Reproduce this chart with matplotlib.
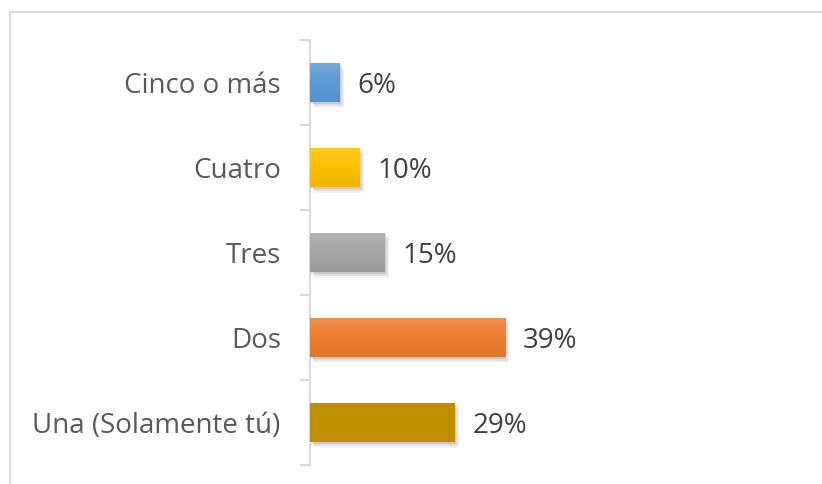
import matplotlib
matplotlib.use("Agg")
import matplotlib.pyplot as plt
import numpy as np
from matplotlib.patches import Rectangle
from matplotlib.colors import LinearSegmentedColormap, to_rgb

categories = ["Una (Solamente tú)", "Dos", "Tres", "Cuatro", "Cinco o más"]
values = [29, 39, 15, 10, 6]
colors = ["#BF8F00", "#ED7D31", "#A5A5A5", "#FFC000", "#5B9BD5"]

W, H = 822, 484
fig = plt.figure(figsize=(W / 100, H / 100), dpi=100)
plt.rcParams['font.family'] = ['Open Sans', 'DejaVu Sans']

# chart border (only top and left visible inside the picture)
fig.patches.append(Rectangle((10 / W, -0.2), 1.2, 1.2 - 12 / H, transform=fig.transFigure,
                             fill=False, edgecolor="#D9D9D9", linewidth=1.5))

ax = fig.add_axes([310 / W, 1 - 465 / H, 500 / W, 425 / H])
ax.set_xlim(0, 100)
ax.set_ylim(-0.5, 4.5)
y = np.arange(len(categories))

def lighten(c, f):
    r, g, b = to_rgb(c)
    return (r + (1 - r) * f, g + (1 - g) * f, b + (1 - b) * f)

def darken(c, f):
    r, g, b = to_rgb(c)
    return (r * (1 - f), g * (1 - f), b * (1 - f))

bh = 0.47
bars = ax.barh(y, values, height=bh, color=colors, zorder=3)
for i, (b, c) in enumerate(zip(bars, colors)):
    x0, y0 = b.get_x(), b.get_y()
    w, h = b.get_width(), b.get_height()
    # soft shadow
    for k, a in [(1, 0.10), (2, 0.07), (3, 0.05)]:
        ax.add_patch(Rectangle((x0 + 0.25 * k, y0 - 0.022 * k), w, h, color="#000000",
                               alpha=a, zorder=2, lw=0))
    if i == 0:
        continue
    cmap = LinearSegmentedColormap.from_list("g", [darken(c, 0.06), c, lighten(c, 0.15)])
    grad = np.linspace(0, 1, 64).reshape(-1, 1)
    im = ax.imshow(grad, extent=(x0, x0 + w, y0, y0 + h), origin="lower", cmap=cmap,
                   aspect="auto", zorder=3.5, interpolation="bilinear")
    im.set_clip_path(b)

for b, v in zip(bars, values):
    ax.text(b.get_width() + 3.5, b.get_y() + b.get_height() / 2, f"{v}%",
            va="center_baseline", ha="left", fontsize=20, color="#404040", zorder=5)

ax.set_yticks(y)
ax.set_yticklabels(categories, fontsize=20, color="#595959")
ax.tick_params(axis="y", which="major", length=0, pad=21)
ax.set_yticks(np.arange(-0.5, 5, 1), minor=True)
ax.tick_params(axis="y", which="minor", length=7, width=1.5, color="#D9D9D9")
ax.set_xticks([])
for s in ["top", "right", "bottom"]:
    ax.spines[s].set_visible(False)
ax.spines["left"].set_color("#D9D9D9")
ax.spines["left"].set_linewidth(1.5)
ax.set_facecolor("none")

fig.savefig("out.png", dpi=100)
